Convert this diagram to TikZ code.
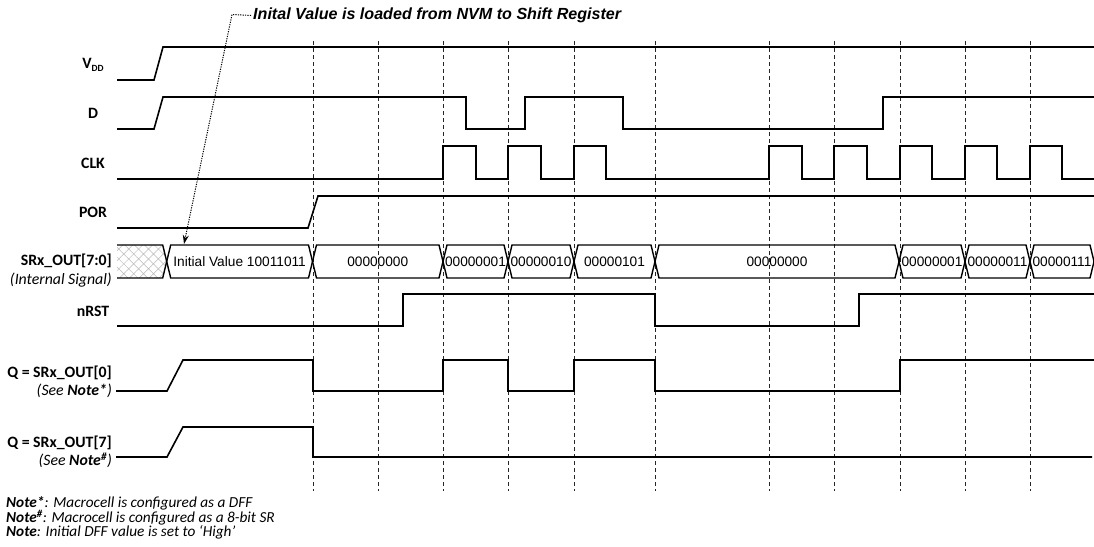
\documentclass[tikz,border=0pt]{standalone}
\usepackage{fontspec}
\setmainfont{Liberation Sans}
\newfontfamily\labfont{Carlito}
\usetikzlibrary{patterns.meta,arrows.meta}
\begin{document}
\begin{tikzpicture}[x=1pt,y=-1pt,
  sig/.style={line width=1.6pt, line join=miter},
  gridline/.style={line width=0.7pt, dash pattern=on 4pt off 3pt, black!85},
  lbl/.style={font=\labfont\fontsize{15.8}{17}\selectfont\bfseries, inner sep=0pt},
  sublbl/.style={font=\labfont\fontsize{15.8}{17}\selectfont\itshape, inner sep=0pt, anchor=east},
  note/.style={font=\labfont\fontsize{15.3}{16}\selectfont\itshape, inner sep=0pt, anchor=west},
  bustxt/.style={font=\fontsize{13.7}{15}\selectfont, inner sep=0pt},
  busline/.style={line width=1.4pt, line join=miter},
]
\useasboundingbox (0,0) rectangle (1094,546);

% dashed time markers
\foreach \x [count=\i] in {313,378,443,508,574,655,769,834,900,965,1030}
  \draw[gridline] (\x,41) coordinate (gt\i) -- (\x,491) coordinate (gb\i);

% labels
\node[lbl] (lvdd) at (93,65) {V\raisebox{-0.3ex}{\fontsize{9.5}{9.5}\selectfont DD}};
\node[lbl] (ld) at (93,113) {D};
\node[lbl] (lclk) at (93,163) {CLK};
\node[lbl] (lpor) at (93,212) {POR};
\node[lbl,anchor=east] (lsr) at (112,261) {SRx\_OUT[7:0]};
\node[sublbl] (lsrs) at (112,280) {(Internal Signal)};
\node[lbl] (lnrst) at (93,311) {nRST};
\node[lbl,anchor=east] (lq0) at (112,373) {Q = SRx\_OUT[0]};
\node[sublbl] (lq0s) at (112,391) {(See \textbf{Note*})};
\node[lbl,anchor=east] (lq7) at (112,443) {Q = SRx\_OUT[7]};
\node[sublbl] (lq7s) at (112,460) {(See \textbf{Note\textsuperscript{\#}})};

% signals
\draw[sig] (117,80)--(154,80)--(163,47)--(1094,47);
\draw[sig] (117,129)--(154,129)--(163,97)--(466,97)--(466,129)--(525,129)--(525,97)--(623,97)--(623,129)--(883,129)--(883,97)--(1094,97);
\draw[sig] (117,179)--(443,179)--(443,146)--(476,146)--(476,179)--(508,179)--(508,146)--(541,146)--(541,179)--(574,179)--(574,146)--(606,146)--(606,179)--(769,179)--(769,146)--(802,146)--(802,179)--(834,179)--(834,146)--(867,146)--(867,179)--(900,179)--(900,146)--(932,146)--(932,179)--(965,179)--(965,146)--(997,146)--(997,179)--(1030,179)--(1030,146)--(1062,146)--(1062,179)--(1094,179);
\draw[sig] (117,228)--(308,228)--(318,196)--(1094,196);
\draw[sig] (117,326)--(403,326)--(403,294)--(655,294)--(655,326)--(859,326)--(859,294)--(1094,294);
\draw[sig] (116,391)--(167,391)--(183,360)--(313,360)--(313,391)--(443,391)--(443,360)--(508,360)--(508,391)--(574,391)--(574,360)--(655,360)--(655,391)--(900,391)--(900,360)--(1094,360);
\draw[sig] (116,457)--(167,457)--(183,427)--(313,427)--(313,457)--(1092,457);

% bus
\fill[pattern={Hatch[angle=45,distance=7pt,line width=0.5pt]}, pattern color=gray!55]
  (117,245)--(162.7,245)--(166.7,261.5)--(162.7,278)--(117,278)--cycle;
\draw[busline] (117,245)--(162.7,245)--(166.7,261.5)--(162.7,278)--(117,278);
\foreach \a/\b/\t [count=\i] in {166.7/312.5/{Initial Value 10011011},312.5/443/00000000,443/508/00000001,508/574/00000010,574/655/00000101,655/899/00000000,899/965/00000001,965/1030/00000011}{
  \draw[busline] (\a,261.5)--(\a+4,245)--(\b-4,245)--(\b,261.5)--(\b-4,278)--(\a+4,278)--cycle;
  \node[bustxt] (seg\i) at ({(\a+\b)/2},262) {\t};
}
\draw[busline] (1030,261.5)--(1034,245)--(1090,245)--(1094,261.5)--(1090,278)--(1034,278)--cycle;
\node[bustxt] (seg9) at (1062,262) {00000111};

% annotation
\node[font=\fontsize{16.1}{18}\selectfont\bfseries\itshape, inner sep=0pt, anchor=west] (title) at (253,15.5) {Inital Value is loaded from NVM to Shift Register};
\coordinate (hook) at (232,14.5);
\coordinate (tip) at (184,244);
\draw[line width=1pt, dash pattern=on 1.2pt off 1.2pt, -{Stealth[length=9pt,width=6pt]}] ([xshift=-2pt]title.west) -- (hook) -- (tip);

% notes
\node[note] (n1) at (6,503) {\textbf{Note*}: Macrocell is configured as a DFF};
\node[note] (n2) at (6,518) {\textbf{Note\textsuperscript{\#}}: Macrocell is configured as a 8-bit SR};
\node[note] (n3) at (6,532) {\textbf{Note}: Initial DFF value is set to ‘High’};
\end{tikzpicture}
\end{document}
